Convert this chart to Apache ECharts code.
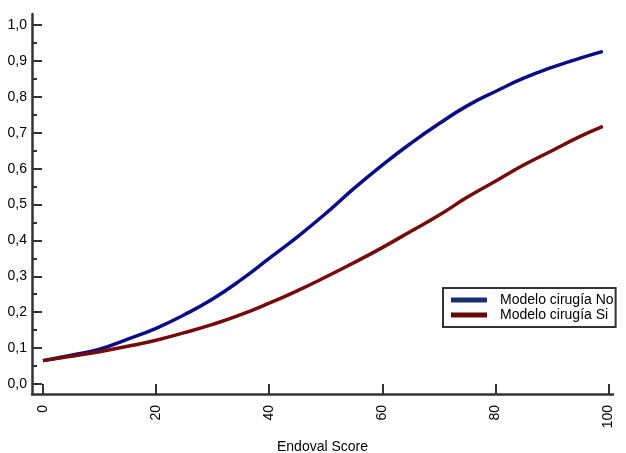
<!DOCTYPE html>
<html>
<head>
<meta charset="utf-8">
<script src="https://cdn.jsdelivr.net/npm/echarts@6/dist/echarts.min.js"></script>
<style>html,body{margin:0;padding:0;background:#fff}#c{width:626px;height:453px}</style>
</head>
<body>
<div id="c"></div>
<script>
const scoreValues = [0,5,10,15,20,25,30,35,40,45,50,55,60,65,70,75,80,85,90,95,99];
const modeloNo = [0.065,0.080,0.097,0.125,0.155,0.193,0.237,0.290,0.350,0.410,0.475,0.545,0.610,0.670,0.725,0.775,0.815,0.852,0.882,0.908,0.927];
const modeloSi = [0.065,0.077,0.090,0.105,0.122,0.143,0.166,0.193,0.225,0.260,0.298,0.338,0.380,0.425,0.470,0.520,0.565,0.610,0.650,0.690,0.718];
const xTicks = [0,20,40,60,80,100];
const yTicks = [0,0.1,0.2,0.3,0.4,0.5,0.6,0.7,0.8,0.9,1.0];
const yMinorTicks = [0.05,0.15,0.25,0.35,0.45,0.55,0.65,0.75,0.85,0.95];
const seriesNames = ['Modelo cirugía No','Modelo cirugía Si'];

const chart = echarts.init(document.getElementById('c'), null, {renderer:'canvas'});
const font = 'Liberation Sans, Arial, sans-serif';
const axisColor = '#333333';
const yMin = -0.028, yMax = 1.031;
chart.setOption({
  animation:false,
  backgroundColor:'#ffffff',
  grid:{left:32, top:14, right:13, bottom:59, containLabel:false, outerBoundsMode:'none'},
  legend:{
    orient:'vertical', left:443, top:288,
    borderColor:'#333', borderWidth:2, padding:[5,2,5,8],
    itemWidth:36, itemHeight:5, itemGap:1, icon:'rect',
    textStyle:{fontFamily:font, fontSize:14, color:'#000', padding:[0,0,0,8]},
    data:[
      {name:seriesNames[0], itemStyle:{color:'#1b2f6e'}},
      {name:seriesNames[1], itemStyle:{color:'#650808'}}
    ]
  },
  xAxis:{
    type:'value', min:-1.94, max:100.8,
    name:'Endoval Score', nameLocation:'middle', nameGap:46,
    nameTextStyle:{fontFamily:font, fontSize:14, color:'#000'},
    axisLine:{show:true, onZero:false, lineStyle:{color:axisColor, width:2.5}},
    axisTick:{show:true, inside:true, length:10, customValues:xTicks, lineStyle:{color:axisColor, width:2}},
    axisLabel:{customValues:xTicks, rotate:90, margin:11, fontFamily:font, fontSize:14, color:'#000'},
    splitLine:{show:false}
  },
  yAxis:[{
    type:'value', min:yMin, max:yMax,
    axisLine:{show:true, onZero:false, lineStyle:{color:axisColor, width:2.5}},
    axisTick:{show:true, inside:true, length:10, customValues:yTicks, lineStyle:{color:axisColor, width:2}},
    axisLabel:{customValues:yTicks, margin:5, fontFamily:font, fontSize:14, color:'#000',
      formatter:v=>v.toFixed(1).replace('.',',')},
    splitLine:{show:false}
  },{
    type:'value', min:yMin, max:yMax, position:'left', offset:0,
    axisLine:{show:false, onZero:false},
    axisTick:{show:true, inside:true, length:5, customValues:yMinorTicks, lineStyle:{color:axisColor, width:2}},
    axisLabel:{show:false},
    splitLine:{show:false}
  }],
  series:[
    {name:seriesNames[0], type:'line', smooth:0.5, showSymbol:false, symbol:'none',
     data:scoreValues.map((x,i)=>[x,modeloNo[i]]), yAxisIndex:0,
     lineStyle:{color:'#0c0c84', width:3.5}, itemStyle:{color:'#0c0c84'}},
    {name:seriesNames[1], type:'line', smooth:0.5, showSymbol:false, symbol:'none',
     data:scoreValues.map((x,i)=>[x,modeloSi[i]]), yAxisIndex:0,
     lineStyle:{color:'#740a0a', width:3.5}, itemStyle:{color:'#740a0a'}}
  ]
});
</script>
</body>
</html>
